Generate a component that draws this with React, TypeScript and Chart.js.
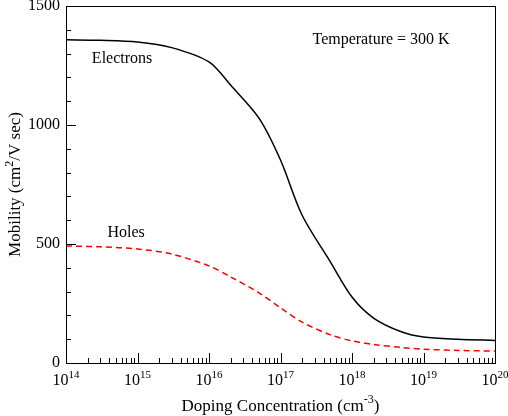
import { useEffect, useRef } from "react";
import { Chart, registerables, type Plugin } from "chart.js";

Chart.register(...registerables);

const dopingLevels = [1e14, 3e14, 1e15, 3e15, 1e16, 2e16, 5e16, 1e17, 2e17, 5e17, 1e18, 2e18, 5e18, 1e19, 3e19, 1e20];
const electronMobility = [1358, 1356, 1349, 1325, 1265, 1168, 1029, 853, 622, 424, 277, 189, 130, 109, 100, 95];
const holeMobility = [492, 488, 479, 458, 408, 362, 295, 232, 172, 118, 93, 78, 65, 58, 53, 50];
const xExponents = [14, 15, 16, 17, 18, 19, 20];
const yMajorTicks = [0, 500, 1000, 1500];

const FONT = "'Liberation Serif', 'DejaVu Serif', serif";

const decorations: Plugin<"line"> = {
  id: "decorations",
  afterDraw(chart) {
    const { ctx, chartArea: a, scales } = chart;
    const x = scales.x;
    const y = scales.y;
    ctx.save();
    ctx.strokeStyle = "#000";
    ctx.lineWidth = 1;
    ctx.strokeRect(a.left + 0.5, a.top + 0.5, a.right - a.left, a.bottom - a.top);

    // x ticks (inward)
    ctx.beginPath();
    for (let e = 14; e < 20; e++) {
      for (let m = 1; m <= 9; m++) {
        const px = Math.round(x.getPixelForValue(m * Math.pow(10, e))) + 0.5;
        const len = m === 1 ? 10 : 5;
        ctx.moveTo(px, a.bottom);
        ctx.lineTo(px, a.bottom - len);
      }
    }
    // y ticks
    for (let v = 0; v <= 1500; v += 100) {
      const py = Math.round(y.getPixelForValue(v)) + 0.5;
      const len = v % 500 === 0 ? 10 : 5;
      ctx.moveTo(a.left, py);
      ctx.lineTo(a.left + len, py);
    }
    ctx.stroke();

    ctx.fillStyle = "#000";
    // x tick labels
    ctx.textBaseline = "alphabetic";
    for (const e of xExponents) {
      const px = x.getPixelForValue(Math.pow(10, e));
      ctx.font = `16px ${FONT}`;
      const bw = ctx.measureText("10").width;
      ctx.font = `11px ${FONT}`;
      const ew = ctx.measureText(String(e)).width;
      const start = px - (bw + ew) / 2;
      ctx.font = `16px ${FONT}`;
      ctx.textAlign = "left";
      ctx.fillText("10", start, a.bottom + 22);
      ctx.font = `11px ${FONT}`;
      ctx.fillText(String(e), start + bw, a.bottom + 15);
    }
    // y tick labels
    ctx.font = `16px ${FONT}`;
    ctx.textAlign = "right";
    ctx.textBaseline = "middle";
    for (const v of yMajorTicks) {
      ctx.fillText(String(v), a.left - 6, y.getPixelForValue(v));
    }

    // x title
    ctx.textBaseline = "alphabetic";
    ctx.font = `17px ${FONT}`;
    const t1 = "Doping Concentration (cm";
    const t2 = ")";
    const sup = "-3";
    const w1 = ctx.measureText(t1).width;
    const w3 = ctx.measureText(t2).width;
    ctx.font = `12px ${FONT}`;
    const w2 = ctx.measureText(sup).width;
    const cx = (a.left + a.right) / 2;
    let sx = cx - (w1 + w2 + w3) / 2;
    ctx.textAlign = "left";
    ctx.font = `17px ${FONT}`;
    ctx.fillText(t1, sx, 411);
    ctx.font = `12px ${FONT}`;
    ctx.fillText(sup, sx + w1, 403);
    ctx.font = `17px ${FONT}`;
    ctx.fillText(t2, sx + w1 + w2, 411);

    // y title
    ctx.save();
    ctx.translate(20, (a.top + a.bottom) / 2);
    ctx.rotate(-Math.PI / 2);
    ctx.font = `17px ${FONT}`;
    const y1 = "Mobility (cm";
    const y3 = "/V sec)";
    const yw1 = ctx.measureText(y1).width;
    const yw3 = ctx.measureText(y3).width;
    ctx.font = `12px ${FONT}`;
    const yw2 = ctx.measureText("2").width;
    sx = -(yw1 + yw2 + yw3) / 2;
    ctx.font = `17px ${FONT}`;
    ctx.fillText(y1, sx, 0);
    ctx.font = `12px ${FONT}`;
    ctx.fillText("2", sx + yw1, -7);
    ctx.font = `17px ${FONT}`;
    ctx.fillText(y3, sx + yw1 + yw2, 0);
    ctx.restore();

    // annotations
    ctx.font = `16px ${FONT}`;
    ctx.textAlign = "left";
    ctx.textBaseline = "middle";
    ctx.fillText("Electrons", x.getPixelForValue(2.3e14), y.getPixelForValue(1280));
    ctx.fillText("Holes", x.getPixelForValue(3.8e14), y.getPixelForValue(545));
    ctx.fillText("Temperature = 300 K", x.getPixelForValue(2.8e17), y.getPixelForValue(1357));
    ctx.restore();
  },
};

export default function App() {
  const canvasRef = useRef<HTMLCanvasElement>(null);

  useEffect(() => {
    const canvas = canvasRef.current;
    if (!canvas) return;
    const chart = new Chart(canvas, {
      type: "line",
      data: {
        datasets: [
          {
            data: dopingLevels.map((d, i) => ({ x: d, y: electronMobility[i] })),
            borderColor: "#000",
            borderWidth: 1.5,
            pointRadius: 0,
            tension: 0.3,
          },
          {
            data: dopingLevels.map((d, i) => ({ x: d, y: holeMobility[i] })),
            borderColor: "#ff0000",
            borderWidth: 1.5,
            borderDash: [6, 4],
            pointRadius: 0,
            tension: 0.3,
          },
        ],
      },
      options: {
        responsive: false,
        animation: false,
        layout: { padding: { left: 66, right: 13, top: 6, bottom: 53 } },
        plugins: { legend: { display: false }, tooltip: { enabled: false } },
        scales: {
          x: { type: "logarithmic", min: 1e14, max: 1e20, display: false },
          y: { min: 0, max: 1500, display: false },
        },
      },
      plugins: [decorations],
    });
    return () => chart.destroy();
  }, []);

  return (
    <div style={{ position: "fixed", left: 0, top: 0, width: 508, height: 416, background: "#fff" }}>
      <canvas ref={canvasRef} width={508} height={416} />
    </div>
  );
}
